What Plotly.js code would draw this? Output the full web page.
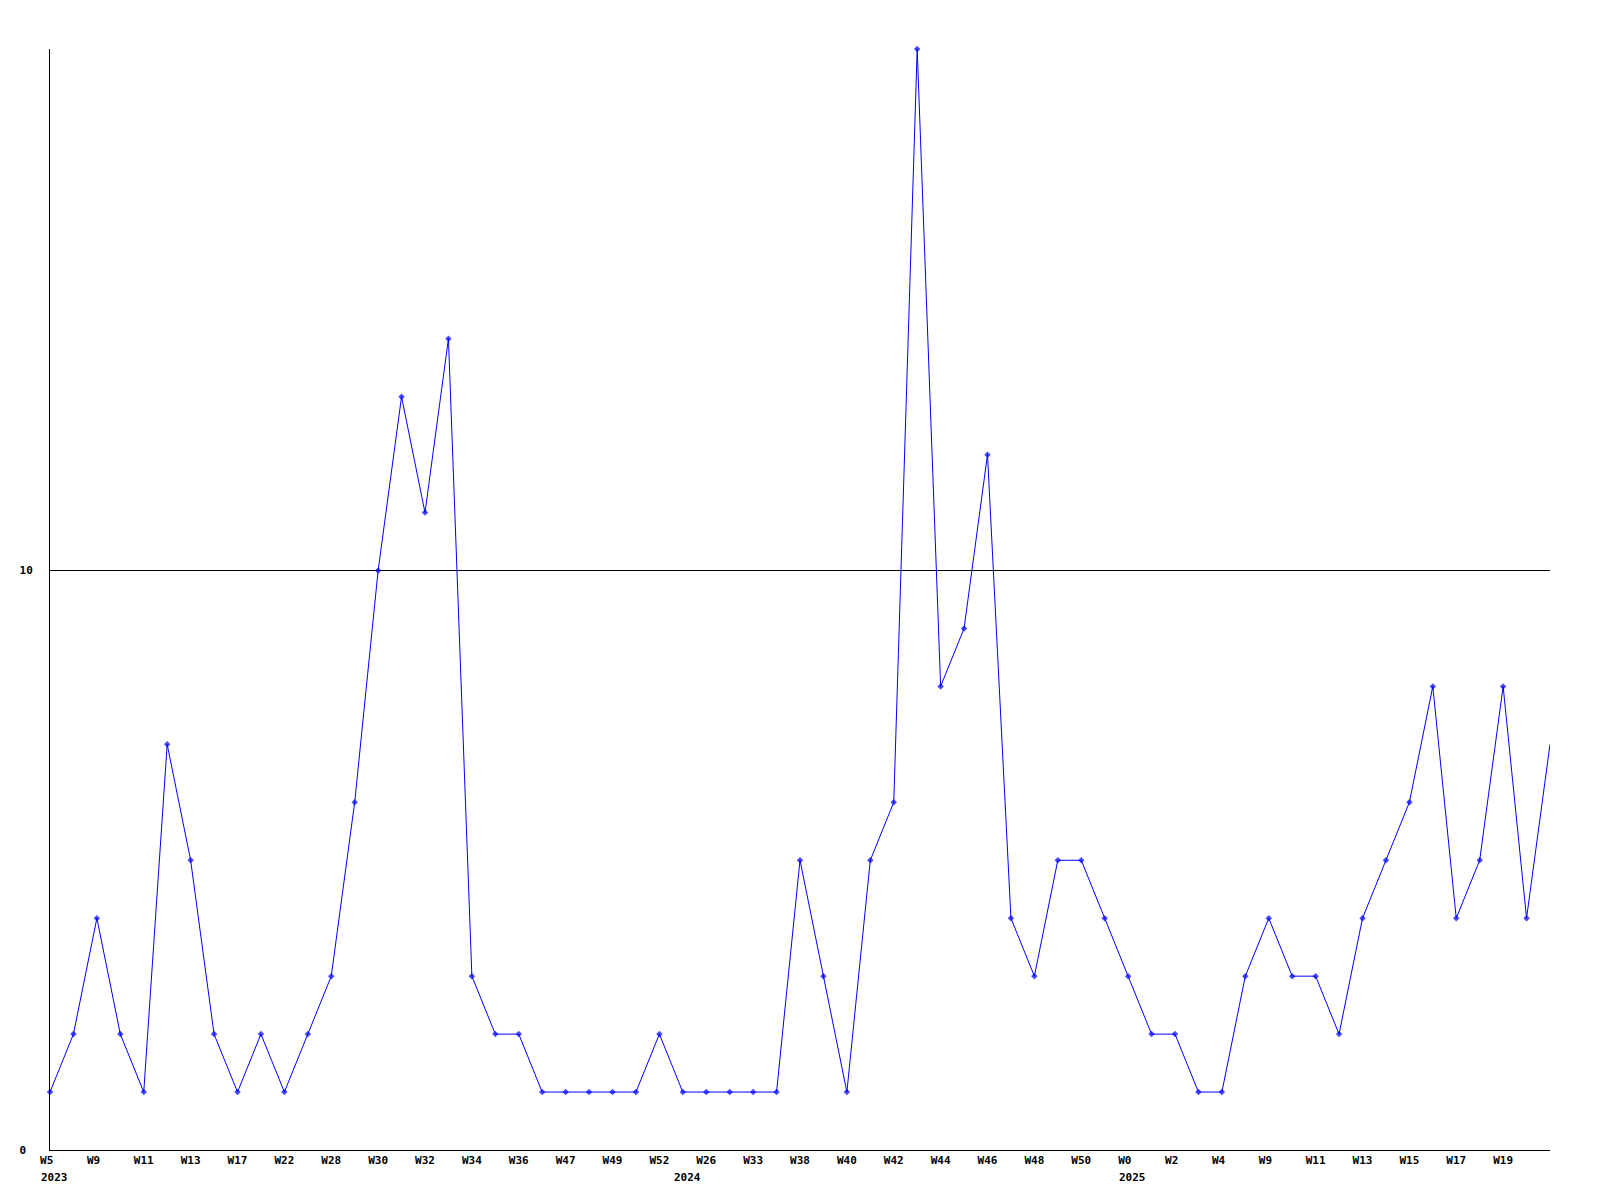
<!DOCTYPE html>
<html>
<head>
<meta charset="utf-8">
<script src="https://cdn.plot.ly/plotly-3.0.1.min.js"></script>
<style>html,body{margin:0;padding:0;background:#fff;}#chart{width:1600px;height:1200px;}</style>
</head>
<body>
<div id="chart"></div>
<script>
// Weekly counts (one point per week, 65 points)
const values = [1,2,4,2,1,7,5,2,1,2,1,2,3,6,10,13,11,14,3,2,2,1,1,1,1,1,2,1,1,1,1,1,5,3,1,5,6,19,8,9,12,4,3,5,5,4,3,2,2,1,1,3,4,3,3,2,4,5,6,8,4,5,8,4,7];
// Labels shown on every other week
const tickLabels = ["W5","W9","W11","W13","W17","W22","W28","W30","W32","W34","W36","W47","W49","W52","W26","W33","W38","W40","W42","W44","W46","W48","W50","W0","W2","W4","W9","W11","W13","W15","W17","W19"];
const tickIndex = [0,2,4,6,8,10,12,14,16,18,20,22,24,26,28,30,32,34,36,38,40,42,44,46,48,50,52,54,56,58,60,62];
// Year labels and the week index where each year starts
const years = ["2023","2024","2025"];
const yearIndex = [0,27,46];
const yTicks = [0,10];

const xs = values.map((v,i)=>i);
const font = {family:"'DejaVu Sans Mono', 'Liberation Mono', monospace", size:11, color:"#000"};
const pad3 = s => s.length < 3 ? s + "\u00a0".repeat(3 - s.length) : s;

const trace = {
  x: xs, y: values, type:'scatter', mode:'lines+markers',
  line:{color:'#0000ff', width:1},
  marker:{color:'#0000ff', symbol:'diamond', size: values.map((v,i)=> i===values.length-1 ? 0 : 5), line:{width:0}},
  cliponaxis:false, hoverinfo:'none'
};

const annotations = years.map((y,k)=>({
  x: yearIndex[k], xref:'x', y:0, yref:'paper', text:'<b>'+y+'</b>', showarrow:false,
  xanchor:'left', yanchor:'middle', xshift:-11, yshift:-27, font:font
}));

const layout = {
  width:1600, height:1200,
  margin:{l:50, r:50, t:49, b:50, pad:0},
  paper_bgcolor:'#fff', plot_bgcolor:'#fff',
  showlegend:false,
  font:font,
  xaxis:{
    range:[0,64], showgrid:false, zeroline:false, showline:true, linecolor:'#000', linewidth:1,
    tickmode:'array', tickvals:tickIndex, ticktext:tickLabels.map(t=>'<b>'+pad3(t)+'</b>'),
    ticks:'', tickfont:font, tickangle:0, fixedrange:true
  },
  yaxis:{
    range:[0,19], showgrid:true, gridcolor:'#000', gridwidth:1, zeroline:false,
    showline:true, linecolor:'#000', linewidth:1,
    tickmode:'array', tickvals:yTicks, ticktext:yTicks.map(v=>'<b>'+(String(v).length<2? v+'\u00a0' : v)+'</b>'),
    ticks:'', tickfont:font, ticklabelstandoff:14, fixedrange:true
  },
  annotations: annotations
};

Plotly.newPlot('chart', [trace], layout, {staticPlot:true, displayModeBar:false});
</script>
</body>
</html>
